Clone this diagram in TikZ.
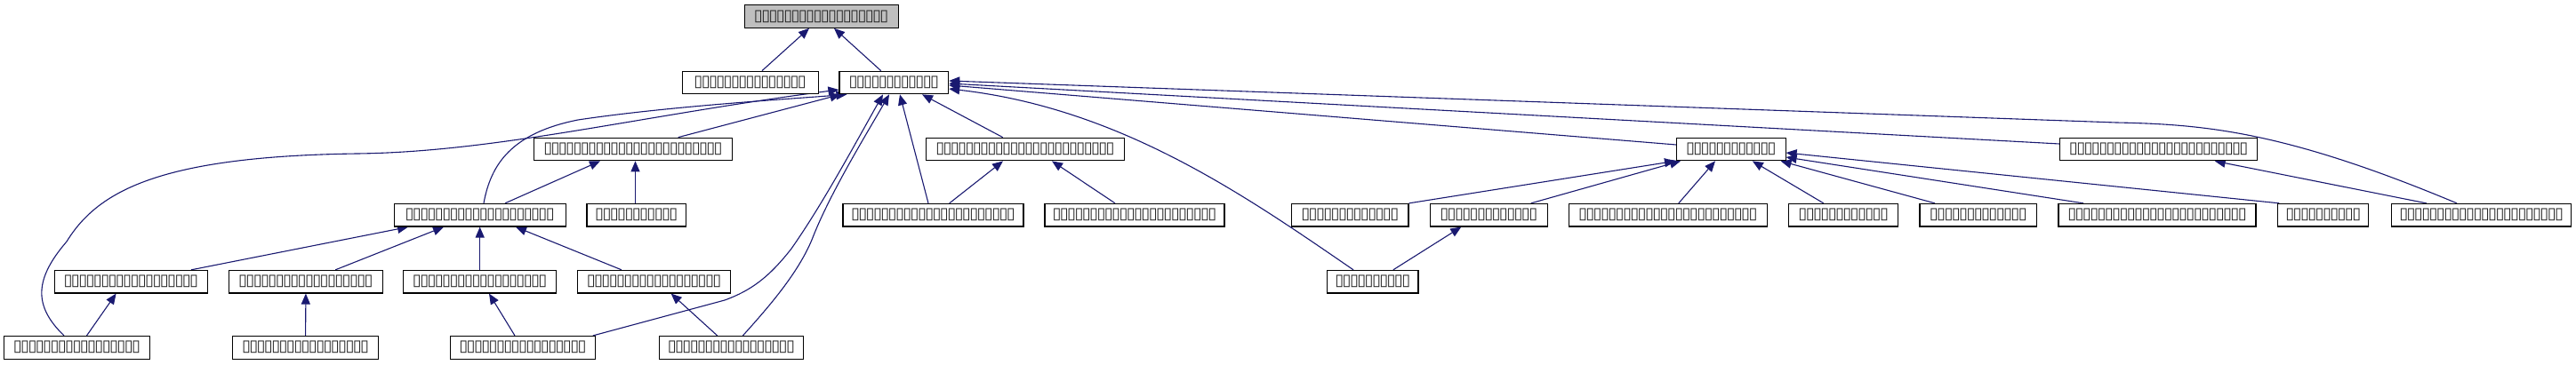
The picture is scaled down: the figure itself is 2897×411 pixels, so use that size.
\documentclass[tikz,border=0pt]{standalone}
\usepackage{fontspec}
\newfontfamily\tofufont{DejaVu Sans}
\usetikzlibrary{arrows.meta,backgrounds}
\definecolor{mblue}{HTML}{191970}
\definecolor{rootfill}{HTML}{BFBFBF}
\newcommand\tb[1]{\foreach \i in {1,...,#1}{\makebox[8.33pt][c]{▯}}}
\tikzset{
  nb/.style={draw=black, line width=1.1pt, fill=white, minimum height=25.6pt,
    inner sep=0pt, font=\tofufont\fontsize{18}{18}\selectfont, text=black!85},
  rootnb/.style={nb, fill=rootfill},
  edge/.style={draw=mblue, line width=1.1pt, {Triangle[length=12pt,width=10pt]}-},
}
\begin{document}
\begin{tikzpicture}[x=1pt,y=-1pt]
\useasboundingbox (0,0) rectangle (2897,411);
% row 0
\node[rootnb, minimum width=172.7pt] (root) at (923.7,18.5) {\tb{18}};
% row 1
\node[nb, minimum width=152.7pt] (A) at (843.7,93) {\tb{15}};
\node[nb, minimum width=122.7pt] (B) at (1005.3,93) {\tb{12}};
% row 2
\node[nb, minimum width=222.6pt] (C) at (712,168) {\tb{24}};
\node[nb, minimum width=222.6pt] (E) at (1153,168) {\tb{24}};
\node[nb, minimum width=122.5pt] (F) at (1946.8,168) {\tb{12}};
\node[nb, minimum width=222.3pt] (G) at (2427.7,168) {\tb{24}};
% row 3
\node[nb, minimum width=192.7pt] (D) at (539.7,242.2) {\tb{20}};
\node[nb, minimum width=111.7pt] (H) at (715.8,242.2) {\tb{11}};
\node[nb, minimum width=203pt] (I) at (1049.5,242.2) {\tb{22}};
\node[nb, minimum width=202pt] (J) at (1276,242.2) {\tb{22}};
\node[nb, minimum width=131.4pt] (T1) at (1518.3,242.2) {\tb{13}};
\node[nb, minimum width=131.5pt] (T2) at (1674.3,242.2) {\tb{13}};
\node[nb, minimum width=222.5pt] (T3) at (1875.8,242.2) {\tb{24}};
\node[nb, minimum width=122.9pt] (T4) at (2073.2,242.2) {\tb{12}};
\node[nb, minimum width=131.6pt] (T5) at (2224.8,242.2) {\tb{13}};
\node[nb, minimum width=222pt] (T6) at (2426,242.2) {\tb{24}};
\node[nb, minimum width=102pt] (T7) at (2612.8,242.2) {\tb{10}};
\node[nb, minimum width=202.1pt] (T8) at (2790.7,242.2) {\tb{22}};
% row 4
\node[nb, minimum width=171.8pt] (K) at (147.4,317.2) {\tb{18}};
\node[nb, minimum width=172.3pt] (L) at (343.9,317.2) {\tb{18}};
\node[nb, minimum width=171.8pt] (M) at (539.7,317.2) {\tb{18}};
\node[nb, minimum width=172.4pt] (N) at (735.6,317.2) {\tb{18}};
\node[nb, minimum width=102.4pt] (O) at (1543.8,317.2) {\tb{10}};
% row 5
\node[nb, minimum width=163.7pt] (P) at (86.5,391.3) {\tb{17}};
\node[nb, minimum width=163.7pt] (Q) at (343.6,391.3) {\tb{17}};
\node[nb, minimum width=162.5pt] (R) at (588,391.3) {\tb{17}};
\node[nb, minimum width=162.5pt] (S) at (822.4,391.3) {\tb{17}};

\begin{scope}[on background layer]
% to root
\draw[edge] ([xshift=-13.7pt]root.south) -- ([xshift=13.3pt]A.north);
\draw[edge] ([xshift=14.3pt]root.south) -- ([xshift=-14.6pt]B.north);
% to B
\draw[edge] ([xshift=2pt]B.south west) -- ([xshift=50.7pt]C.north);
\draw[edge] ([xshift=9pt]B.south west) .. controls (880,112) and (750,120) .. (650,135)
  .. controls (575,150) and (552,185) .. ([xshift=4.3pt]D.north);
\draw[edge] ([yshift=-8pt]B.west) .. controls (720,130) and (560,171) .. (402,173)
  .. controls (180,176) and (110,215) .. (75,272)
  .. controls (38,315) and (38,345) .. ([xshift=-14.5pt]P.north);
\draw[edge] ([xshift=-12.3pt]B.south) .. controls (960,165) and (925,230) .. (890,280)
  .. controls (865,312) and (845,327) .. (815,338) -- ([xshift=-3pt]R.north east);
\draw[edge] ([xshift=-5.3pt]B.south) .. controls (975,150) and (935,215) .. (915,265)
  .. controls (900,305) and (865,345) .. ([xshift=13pt]S.north);
\draw[edge] ([xshift=6.7pt]B.south) -- ([xshift=-5.5pt]I.north);
\draw[edge] ([xshift=31.7pt]B.south) -- ([xshift=-25.3pt]E.north);
\draw[edge] ([yshift=-7pt]B.east) .. controls (1260,122) and (1400,220) .. ([xshift=-21.8pt]O.north);
\draw[edge] ([yshift=-3pt]B.east) -- ([yshift=5pt]F.west);
\draw[edge] ([yshift=-1pt]B.east) -- ([yshift=6pt]G.west);
\draw[edge] ([yshift=2pt]B.east) -- (2380,138) .. controls (2480,140) and (2570,148) .. ([xshift=-27.7pt]T8.north);
% to C
\draw[edge] ([xshift=-37pt]C.south) -- ([xshift=28.3pt]D.north);
\draw[edge] ([xshift=2.5pt]C.south) -- ([xshift=-1.3pt]H.north);
% to D
\draw[edge] ([xshift=-80.7pt]D.south) -- ([xshift=67.6pt]K.north);
\draw[edge] ([xshift=-40.7pt]D.south) -- ([xshift=33.3pt]L.north);
\draw[edge] (D.south) -- (M.north);
\draw[edge] ([xshift=40.3pt]D.south) -- ([xshift=-36.6pt]N.north);
% row 4 to row 5
\draw[edge] ([xshift=-16.8pt]K.south) -- ([xshift=11pt]P.north);
\draw[edge] (L.south) -- (Q.north);
\draw[edge] ([xshift=10.3pt]M.south) -- ([xshift=-9pt]R.north);
\draw[edge] ([xshift=19pt]N.south) -- ([xshift=-15.7pt]S.north);
% to E
\draw[edge] ([xshift=-25pt]E.south) -- ([xshift=18.2pt]I.north);
\draw[edge] ([xshift=30pt]E.south) -- ([xshift=-22pt]J.north);
% to F
\draw[edge] ([xshift=-1pt]F.south west) -- (T1.north east);
\draw[edge] ([xshift=5pt]F.south west) -- ([xshift=47.4pt]T2.north);
\draw[edge] ([xshift=-17.8pt]F.south) -- ([xshift=12pt]T3.north);
\draw[edge] ([xshift=24pt]F.south) -- ([xshift=-22.4pt]T4.north);
\draw[edge] ([xshift=-6pt]F.south east) -- ([xshift=-48.8pt]T5.north);
\draw[edge] ([yshift=-9pt]F.east) -- ([xshift=-83pt]T6.north);
\draw[edge] ([yshift=-4pt]F.east) -- ([xshift=2pt]T7.north west);
% to G, T2
\draw[edge] ([xshift=63pt]G.south) -- ([xshift=-62pt]T8.north);
\draw[edge] ([xshift=-31pt]T2.south) -- ([xshift=23pt]O.north);
\end{scope}
\end{tikzpicture}
\end{document}
